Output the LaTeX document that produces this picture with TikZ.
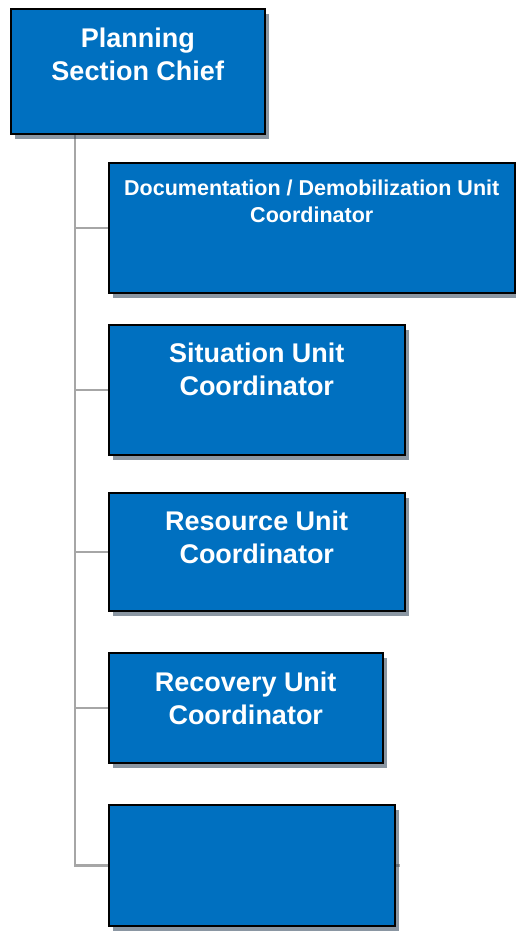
\documentclass[tikz,border=0pt]{standalone}
\usepackage{fontspec}
\setmainfont{Liberation Sans}
\usetikzlibrary{positioning,shadows,backgrounds}
\definecolor{unitblue}{HTML}{0070C0}
\definecolor{trunkgray}{HTML}{A6A6A6}
\definecolor{shadowgray}{HTML}{2A3F55}

\tikzset{
	unitbox/.style={draw=black, line width=1.5pt, fill=unitblue, anchor=north west, inner sep=0pt,
		drop shadow={shadow xshift=4pt, shadow yshift=-5pt, opacity=0.55, fill=shadowgray}},
	unittext/.style={anchor=north, align=center, text=white, inner sep=0pt,
		font=\bfseries\fontsize{27}{33}\selectfont},
	smalltext/.style={unittext, font=\bfseries\fontsize{21.5}{27}\selectfont},
	trunkline/.style={draw=trunkgray, line width=2.5pt}
}

\begin{document}
\begin{tikzpicture}[x=1pt, y=-1pt]
	\useasboundingbox (0,0) rectangle (515,951);
	% boxes
	\node[unitbox, minimum width=254pt, minimum height=125pt] (chief) at (10,8) {};
	\node[unitbox, minimum width=406pt, minimum height=130pt] (docu) at (108,162) {};
	\node[unitbox, minimum width=296pt, minimum height=130pt] (situ) at (108,324) {};
	\node[unitbox, minimum width=296pt, minimum height=118pt] (reso) at (108,492) {};
	\node[unitbox, minimum width=274pt, minimum height=110pt] (reco) at (108,652) {};
	\node[unitbox, minimum width=286pt, minimum height=121pt] (blank) at (108,804) {};
	% texts
	\node[unittext, below=20pt of chief.north] (chieftext) {Planning\\Section Chief};
	\node[smalltext, below=17.5pt of docu.north] (docutext) {Documentation / Demobilization Unit\\Coordinator};
	\node[unittext, below=19pt of situ.north] (situtext) {Situation Unit\\Coordinator};
	\node[unittext, below=19pt of reso.north] (resotext) {Resource Unit\\Coordinator};
	\node[unittext, below=20pt of reco.north] (recotext) {Recovery Unit\\Coordinator};
	% connectors
	\begin{pgfonlayer}{background}
		\coordinate (trunk) at ([xshift=65pt]chief.south west);
		\draw[trunkline] (trunk) |- ([xshift=4pt]blank.east);
		\foreach \unit in {docu,situ,reso,reco}
			\draw[trunkline] (trunk |- \unit.west) -- (\unit.west);
	\end{pgfonlayer}
\end{tikzpicture}
\end{document}
